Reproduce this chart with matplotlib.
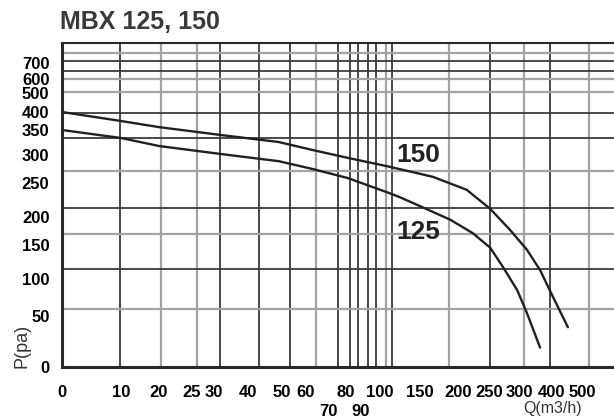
import numpy as np
import matplotlib.pyplot as plt

# --- data (Q in m3/h, P in Pa) ---
q_150 = [0, 10, 20, 32, 49, 63, 81, 112, 167, 214, 252, 285, 324, 364, 403, 453]
p_150 = [400, 375, 358, 340, 326, 310, 295, 279, 261, 240, 212, 177, 143, 113, 76, 39]

q_125 = [0, 10, 20, 32, 49, 63, 81, 112, 125, 150, 190, 224, 252, 273, 297, 324, 364]
p_125 = [350, 334, 318, 302, 289, 275, 259, 235, 229, 216, 195, 171, 146, 118, 85, 54, 19]

x_ticks = [0, 10, 20, 25, 30, 40, 50, 60, 80, 100, 150, 200, 250, 300, 400, 500]
x_ticks_low = [70, 90]   # labels printed on a second line
y_ticks = [0, 50, 100, 150, 200, 250, 300, 350, 400, 500, 600, 700]

# grid values of the printed sheet
x_grid_dark = [10, 30, 40, 50, 70, 75, 80, 85, 90, 100, 200, 300]
x_grid_light = [20, 25, 60, 95, 150, 250, 400]
y_grid_dark = [100, 200, 300, 350, 600, 700]
y_grid_light = [50, 150, 250, 400, 500, 800]

# --- the sheet's hand-made axes: where each value sits, in pixels ---
x_lab_vals = [0, 10, 20, 25, 30, 40, 50, 60, 70, 80, 90, 100, 150, 200, 250, 300, 400, 500]
x_lab_px = [62, 121, 159, 192, 214, 248, 282, 306, 328, 346, 361, 380, 420, 458, 489, 519, 552, 582]
y_lab_px = [367, 316, 279, 245, 217, 183, 155, 130, 112, 93, 79, 63]
x_grid_vals = [0, 10, 20, 25, 30, 40, 50, 60, 70, 75, 80, 85, 90, 95, 100, 150, 200, 250, 300, 400, 500]
x_grid_px = [62, 120, 161, 197, 220, 259, 290, 316, 338, 350, 358, 368, 376, 386, 392, 449, 490, 524, 550, 589, 614]
y_grid_vals = [0, 50, 100, 150, 200, 250, 300, 350, 400, 500, 600, 700, 800, 900]
y_grid_px = [367, 309, 269, 234, 208, 171, 138, 113, 92, 79, 71, 61, 53, 43]

W, H = 614, 418
LEFT, RIGHT, TOP, BOTTOM = 62, 614, 43, 367
FONT = 'Liberation Sans'


def piecewise(vals, pix):
    """forward/inverse pair for a piecewise linear axis, extended at the ends"""
    v = np.asarray(vals, float)
    p = np.asarray(pix, float)
    if p[0] > p[-1]:
        p = -p

    def make(a, b):
        def f(x):
            x = np.asarray(x, float)
            out = np.interp(x, a, b)
            out = np.where(x < a[0], b[0] + (x - a[0]) * (b[1] - b[0]) / (a[1] - a[0]), out)
            out = np.where(x > a[-1], b[-1] + (x - a[-1]) * (b[-1] - b[-2]) / (a[-1] - a[-2]), out)
            return out
        return f

    return make(v, p), make(p, v)


fig = plt.figure(figsize=(W / 100, H / 100), dpi=100)
rect = [LEFT / W, 1 - BOTTOM / H, (RIGHT - LEFT) / W, (BOTTOM - TOP) / H]

dark = '#3a3a3a'
light = '#a3a3a3'

# grid sheet (background)
gx, gy = piecewise(x_grid_vals, x_grid_px), piecewise(y_grid_vals, y_grid_px)
axg = fig.add_axes(rect)
axg.set_xscale('function', functions=gx)
axg.set_yscale('function', functions=gy)
axg.set_xlim(0, 500)
axg.set_ylim(0, 900)
axg.set_xticks(x_grid_dark)
axg.set_xticks(x_grid_light, minor=True)
axg.set_yticks(y_grid_dark)
axg.set_yticks(y_grid_light, minor=True)
axg.tick_params(which='both', length=0, labelbottom=False, labelleft=False)
axg.grid(True, which='major', color=dark, lw=1.3)
axg.grid(True, which='minor', color=light, lw=1.6)
for t in axg.xaxis.get_major_ticks():
    if t.get_loc() in x_ticks_low:
        t.tick1line.set_markersize(24)
        t.tick1line.set_markeredgewidth(1.3)
        t.tick1line.set_color(dark)
axg.spines['right'].set_visible(False)
axg.spines['left'].set_linewidth(2.2)
axg.spines['bottom'].set_linewidth(2.2)
axg.spines['top'].set_linewidth(1.5)
for s in ('left', 'bottom', 'top'):
    axg.spines[s].set_color('#2a2a2a')

# curves and printed scale
lx, ly = piecewise(x_lab_vals, x_lab_px), piecewise(y_ticks, y_lab_px)
ax = fig.add_axes(rect, facecolor='none')
ax.set_xscale('function', functions=lx)
ax.set_yscale('function', functions=ly)
ax.set_xlim(lx[1](LEFT), lx[1](RIGHT))
ax.set_ylim(ly[1](-BOTTOM), ly[1](-TOP))
for s in ax.spines.values():
    s.set_visible(False)

ax.plot(q_150, p_150, color='#202020', lw=1.7, solid_capstyle='round', solid_joinstyle='round')
ax.plot(q_125, p_125, color='#202020', lw=1.7, solid_capstyle='round', solid_joinstyle='round')
ax.text(148, 300, '150', fontsize=19, fontweight='bold', family=FONT,
        color='#222222', ha='center', va='center')
ax.text(148, 173, '125', fontsize=19, fontweight='bold', family=FONT,
        color='#222222', ha='center', va='center')

ax.set_xticks(x_ticks)
ax.set_xticklabels([str(v) for v in x_ticks])
ax.set_xticks(x_ticks_low, minor=True)
ax.set_xticklabels([str(v) for v in x_ticks_low], minor=True)
ax.set_yticks(y_ticks)
ax.set_yticklabels([str(v) for v in y_ticks])
ax.tick_params(which='both', length=0)
ax.tick_params(axis='x', which='major', pad=13)
ax.tick_params(axis='x', which='minor', pad=27)
ax.tick_params(axis='y', pad=9)
for lab in (ax.get_xticklabels() + ax.get_xticklabels(minor=True)
            + ax.get_yticklabels()):
    lab.set_fontfamily(FONT)
    lab.set_fontweight('bold')
    lab.set_fontsize(12)

fig.text(60 / W, 1 - 29 / H, 'MBX 125, 150', fontsize=18, fontweight='bold',
         family=FONT, color='#3a3a3a', va='baseline', ha='left')
fig.text(22 / W, 1 - 346 / H, 'P(pa)', fontsize=13, family=FONT,
         color='#333333', rotation=90, ha='center', va='center')
fig.text(553 / W, 1 - 408 / H, 'Q(m3/h)', fontsize=11.5, family=FONT,
         color='#333333', ha='center', va='center')

fig.savefig('out.png', dpi=100)
